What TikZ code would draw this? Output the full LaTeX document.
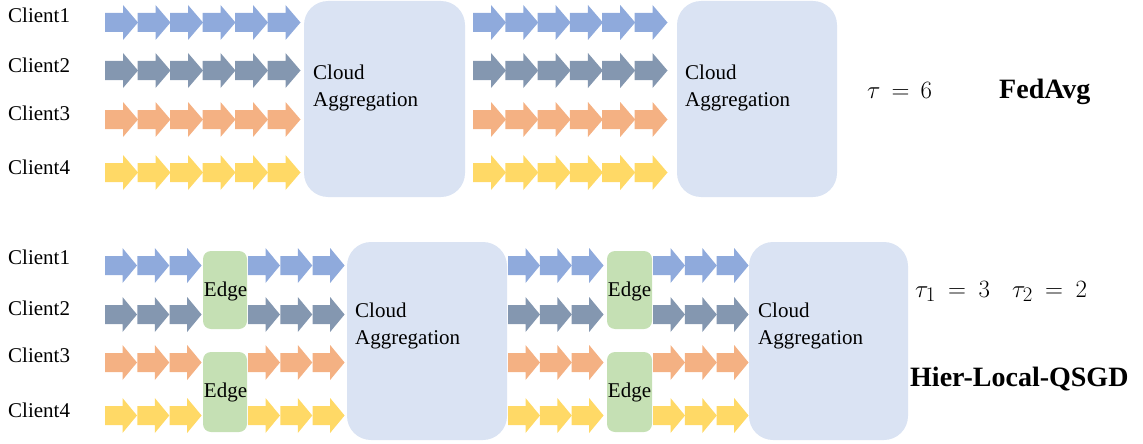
\documentclass[tikz,border=0pt]{standalone}
\usepackage{fontspec}
\setmainfont{Liberation Serif}
\definecolor{cA}{HTML}{8FAADC}
\definecolor{cB}{HTML}{8497B0}
\definecolor{cC}{HTML}{F4B183}
\definecolor{cD}{HTML}{FFD966}
\definecolor{cloudfill}{HTML}{DAE3F3}
\definecolor{edgefill}{HTML}{C5E0B4}
\newcommand\widemathsp{\thickmuskip=8mu\relax}
\newcommand\widermathsp{\thickmuskip=9mu\relax}
\tikzset{
  blockarr/.pic={\path[pic actions] (0,-9.5) -- (18,-9.5) -- (18,-17.5) -- (33,0) -- (18,17.5) -- (18,9.5) -- (0,9.5) -- cycle;},
  sblockarr/.pic={\path[pic actions] (0,-9.5) -- (17.5,-9.5) -- (17.5,-17.5) -- (32,0) -- (17.5,17.5) -- (17.5,9.5) -- (0,9.5) -- cycle;},
  lbl/.style={anchor=west, inner sep=0pt, font=\fontsize{21}{27}\selectfont},
  cloudbox/.style={fill=cloudfill, rounded corners=24pt, draw=none},
  edgebox/.style={fill=edgefill, rounded corners=8pt, draw=none},
  boxtext/.style={anchor=north west, inner sep=0pt, align=left, font=\fontsize{21}{27}\selectfont},
  edgetext/.style={anchor=base, inner sep=0pt, font=\fontsize{21}{27}\selectfont},
  mathlbl/.style={anchor=base west, inner sep=0pt, font={\fontsize{25}{30}\selectfont\widemathsp}},
  bigmathlbl/.style={anchor=base west, inner sep=0pt, font={\fontsize{30}{35}\selectfont\widermathsp}},
  titlelbl/.style={anchor=base west, inner sep=0pt, font=\fontsize{28}{33}\selectfont\bfseries},
}
\begin{document}
\begin{tikzpicture}[x=1pt,y=-1pt]
\useasboundingbox (0,0) rectangle (1143,444);

% ---------- FedAvg (top) ----------
\node[lbl] (t1) at (8,15) {Client1};
\node[lbl] (t2) at (8,65) {Client2};
\node[lbl] (t3) at (8,113) {Client3};
\node[lbl] (t4) at (8,167) {Client4};

\foreach \yy/\cc in {22.5/cA,70.5/cB,119.5/cC,172.5/cD}{
  \foreach \i in {0,...,5}{
    \pic[fill=\cc] at (105+\i*32.5,\yy) {blockarr};
    \pic[fill=\cc] at (473+\i*32.3,\yy) {blockarr};
  }
}

\path[cloudbox] (304,1) rectangle (465,197);
\node[boxtext] (ca1) at (313,65) {Cloud\\Aggregation};
\path[cloudbox] (677,1) rectangle (837,197);
\node[boxtext] (ca2) at (685,65) {Cloud\\Aggregation};

\node[mathlbl] (tau) at (867,98) {$\tau=6$};
\node[titlelbl] (fedavg) at (999,98) {FedAvg};

% ---------- Hier-Local-QSGD (bottom) ----------
\node[lbl] (b1) at (8,257) {Client1};
\node[lbl] (b2) at (8,308) {Client2};
\node[lbl] (b3) at (8,355) {Client3};
\node[lbl] (b4) at (8,410) {Client4};

\foreach \yy/\cc in {265.5/cA,314.5/cB,362.5/cC,415.5/cD}{
  \foreach \i in {0,...,2}{
    \pic[fill=\cc] at (105+\i*32.3,\yy) {sblockarr};
    \pic[fill=\cc] at (248+\i*32.3,\yy) {sblockarr};
    \pic[fill=\cc] at (508+\i*31.8,\yy) {sblockarr};
    \pic[fill=\cc] at (653+\i*31.8,\yy) {sblockarr};
  }
}

\path[edgebox] (203,251) rectangle (247,329);
\node[edgetext] (e1) at (225.5,296) {Edge};
\path[edgebox] (203,352) rectangle (247,432);
\node[edgetext] (e2) at (225.5,397) {Edge};
\path[edgebox] (607,251) rectangle (652,329);
\node[edgetext] (e3) at (629.5,296) {Edge};
\path[edgebox] (607,352) rectangle (652,432);
\node[edgetext] (e4) at (629.5,397) {Edge};

\path[cloudbox] (347,242) rectangle (507,440);
\node[boxtext] (ca3) at (355,303) {Cloud\\Aggregation};
\path[cloudbox] (749,242) rectangle (908,440);
\node[boxtext] (ca4) at (758,303) {Cloud\\Aggregation};

\node[bigmathlbl] (tau1) at (915,297) {$\tau_1=3$};
\node[bigmathlbl] (tau2) at (1012,297) {$\tau_2=2$};
\node[titlelbl] (hier) at (910,386) {Hier-Local-QSGD};
\end{tikzpicture}
\end{document}
